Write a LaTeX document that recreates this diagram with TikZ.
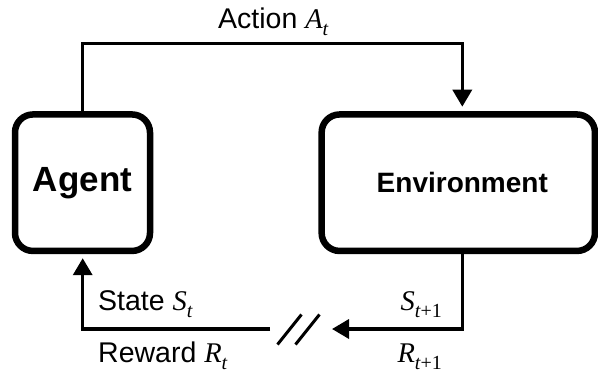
\documentclass[tikz,border=0pt]{standalone}
\usepackage{fontspec}
\setmainfont{Liberation Sans}
\newfontfamily\tms{Liberation Serif}
\usetikzlibrary{arrows.meta}
\newcommand\mv[2]{{\tms\itshape #1}\raisebox{-0.28em}{\tms\fontsize{20}{20}\selectfont #2}}
\begin{document}
\begin{tikzpicture}[x=1pt,y=-1pt,
  box/.style={draw, line width=6.5pt, rounded corners=18pt, inner sep=0pt},
  conn/.style={line width=3.5pt},
  arr/.style={conn, -{Triangle[width=19pt,length=17pt]}},
  slash/.style={line width=3pt},
  lbl/.style={font=\fontsize{28.5}{32}\selectfont, inner sep=0pt}]
\useasboundingbox (0,0) rectangle (598,376);
\node[box, minimum width=135pt, minimum height=136.5pt] (agent) at (82.5,182.7)
  {\fontsize{35}{40}\selectfont\bfseries Agent};
\node[box, minimum width=273.3pt, minimum height=136.5pt] (env) at (458.3,182.7)
  {\hspace{8pt}\fontsize{28}{32}\selectfont\bfseries Environment};
\coordinate (tl) at (82.7,43.3);
\coordinate (tr) at (462.3,43.3);
\coordinate (bl) at (82.7,329);
\coordinate (br) at (462.3,329);
\coordinate (gapL) at (270,329);
\coordinate (gapR) at (332,329);
\draw[arr, shorten >=4.5pt] (agent.north -| tl) -- (tl) -- (tr) -- (tr |- env.north);
\draw[arr] (env.south -| br) -- (br) -- (gapR);
\draw[arr, shorten >=4pt] (gapL) -- (bl) -- (bl |- agent.south);
\coordinate (s1a) at (277.5,344.5); \coordinate (s1b) at (301.5,314.5);
\coordinate (s2a) at (295.5,344.5); \coordinate (s2b) at (319.5,314.5);
\draw[slash] (s1a) -- (s1b);
\draw[slash] (s2a) -- (s2b);
\node[lbl, anchor=base west] (act) at (218,28) {Action \mv{A}{\itshape t}};
\node[lbl, anchor=base west] (st) at (98,310) {State \mv{S}{\itshape t}};
\node[lbl, anchor=base west] (rw) at (98,362) {Reward \mv{R}{\itshape t}};
\node[lbl, anchor=base east] (st1) at (442,310) {\mv{S}{{\itshape t}+1}};
\node[lbl, anchor=base east] (rw1) at (442,362) {\mv{R}{{\itshape t}+1}};
\end{tikzpicture}
\end{document}
